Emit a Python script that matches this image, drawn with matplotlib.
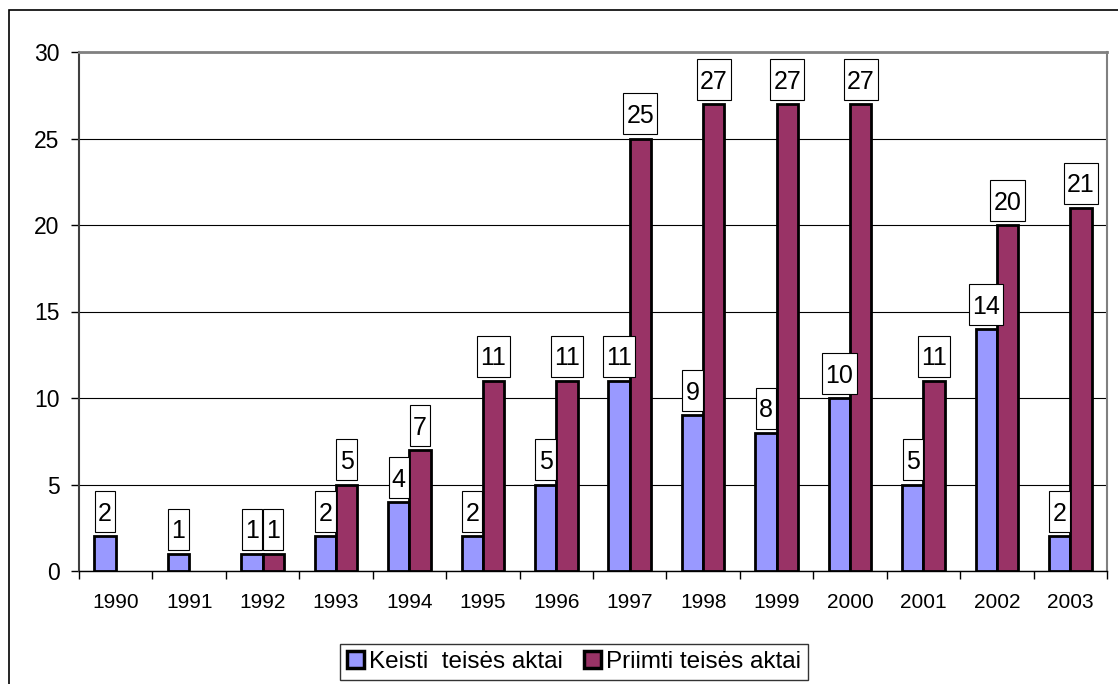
import matplotlib.pyplot as plt
import numpy as np
from matplotlib.patches import Rectangle
from matplotlib.path import Path

plt.rcParams['font.family'] = ['Liberation Sans', 'DejaVu Sans']

years = ['1990', '1991', '1992', '1993', '1994', '1995', '1996',
         '1997', '1998', '1999', '2000', '2001', '2002', '2003']
keisti = [2, 1, 1, 2, 4, 2, 5, 11, 9, 8, 10, 5, 14, 2]
priimti = [0, 0, 1, 5, 7, 11, 11, 25, 27, 27, 27, 11, 20, 21]
series_names = ['Keisti  teisės aktai', 'Priimti teisės aktai']


def label_box(x0, y0, width, height, mutation_size):
    # excel style label box: digits centred, more room above/below than at sides
    px = 0.13 * mutation_size
    bot = y0 - 0.25 * mutation_size
    top = y0 + 1.39 * mutation_size
    xa, xb = x0 - px, x0 + width + px
    return Path([(xa, bot), (xb, bot), (xb, top), (xa, top), (xa, bot)], closed=True)


fig = plt.figure(figsize=(11.18, 6.84), dpi=100)
ax = fig.add_axes([79 / 1118, 1 - 571 / 684, (1107 - 79) / 1118, (571 - 52) / 684])

# outer chart frame (cut off at right/bottom like the original)
fig.patches.append(Rectangle((9 / 1118, -0.05), 1.2, 1 - 10 / 684 + 0.05,
                             transform=fig.transFigure, fill=False,
                             edgecolor='black', linewidth=1.2))

x = np.arange(len(years))
w = 0.29
k = np.array(keisti, dtype=float)
p = np.array(priimti, dtype=float)
k[k == 0] = np.nan
p[p == 0] = np.nan
ax.bar(x - w / 2, k, w, color='#9999FF', edgecolor='black', linewidth=2, zorder=3,
       label=series_names[0])
ax.bar(x + w / 2, p, w, color='#993366', edgecolor='black', linewidth=2, zorder=3,
       label=series_names[1])

box = dict(boxstyle=label_box, facecolor='white', edgecolor='black', linewidth=0.8)
for xs, vals in ((x - w / 2, keisti), (x + w / 2, priimti)):
    for xi, v in zip(xs, vals):
        if v == 0:
            continue
        ax.annotate(str(v), (xi, v), xytext=(0, 7.4), textcoords='offset points',
                    ha='center', va='bottom', fontsize=18, bbox=box, zorder=4)

ax.set_xlim(-0.5, len(years) - 0.5)
ax.set_ylim(0, 30)
ax.set_yticks(range(0, 31, 5))
ax.yaxis.grid(True, color='black', linewidth=0.8, zorder=0)
ax.set_xticks(x)
ax.set_xticklabels(years, fontsize=15)
ax.set_xticks(np.arange(-0.5, len(years)), minor=True)
ax.tick_params(axis='x', which='major', length=0, pad=16)
ax.tick_params(axis='x', which='minor', length=6, width=1, direction='out')
ax.tick_params(axis='y', labelsize=16.5, length=6, direction='out', width=1, pad=8)

ax.spines['top'].set_color('#808080')
ax.spines['top'].set_linewidth(2)
ax.spines['right'].set_color('#808080')
ax.spines['right'].set_linewidth(1.5)
ax.spines['left'].set_color('#404040')
ax.spines['left'].set_linewidth(1.5)
ax.spines['bottom'].set_linewidth(1)

leg = fig.legend(loc='center', bbox_to_anchor=(574 / 1118, 1 - 662 / 684), ncol=2,
                 fontsize=17.5, frameon=True, fancybox=False, edgecolor='black',
                 handlelength=0.67, handleheight=0.67, handletextpad=0.2,
                 columnspacing=0.9, borderpad=0.3)
leg.get_frame().set_linewidth(1)
for h in leg.legend_handles:
    h.set_linewidth(2.5)

fig.savefig('out.png', dpi=100)
